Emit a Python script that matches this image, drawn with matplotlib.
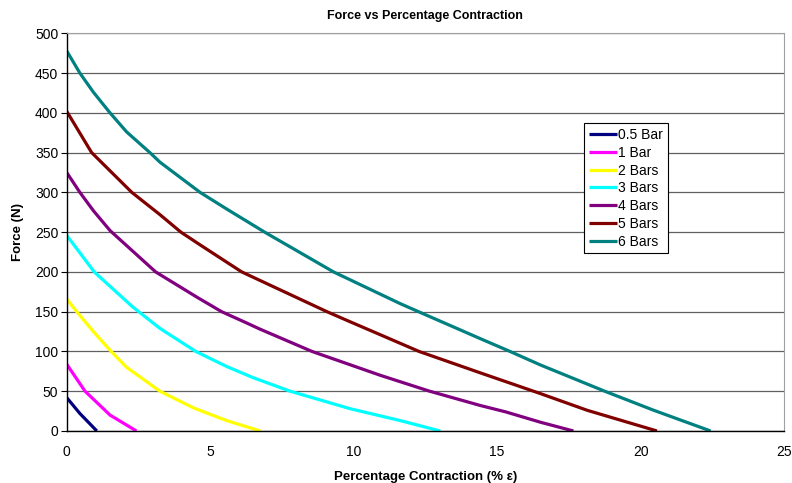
import matplotlib
matplotlib.use('Agg')
import matplotlib.pyplot as plt

plt.rcParams['font.family'] = ['Liberation Sans', 'DejaVu Sans']

# values, one (x, y) list per series
x_05 = [0, 0.46, 1.05]
y_05 = [42, 22, 0]
x_1 = [0, 0.64, 1.51, 2.43]
y_1 = [84, 50, 20, 0]
x_2 = [0, 0.35, 0.93, 1.55, 2.09, 3.25, 4.42, 5.58, 6.75]
y_2 = [166, 150, 125, 100, 80, 50, 29, 13, 0]
x_3 = [0, 0.96, 2.3, 3.25, 4.5, 5.58, 6.5, 7.79, 9.88, 10.93, 11.63, 13.02]
y_3 = [246, 200, 156, 129, 100, 81, 67, 50, 28, 19, 13, 0]
x_4 = [0, 0.46, 0.93, 1.51, 3.1, 4.55, 5.4, 6.2, 6.74, 8.55, 10.93, 12.65, 14.42, 15.3, 16.51, 17.66]
y_4 = [325, 300, 277, 252, 200, 168, 150, 137, 128, 100, 70, 50, 32, 24, 11, 0]
x_5 = [0, 0.87, 2.27, 3.25, 3.98, 4.65, 6.1, 9.07, 9.77, 10.93, 12.28, 14.42, 16.51, 18.14, 20.57]
y_5 = [402, 350, 300, 272, 250, 234, 200, 150, 139, 121, 100, 73, 47, 26, 0]
x_6 = [0, 0.46, 0.93, 1.51, 2.09, 2.9, 3.25, 4.65, 5.58, 6.9, 9.3, 11.63, 12.26, 14.42, 15.45, 16.51, 18.75, 20.46, 22.44]
y_6 = [478, 450, 426, 400, 376, 350, 338, 300, 279, 250, 200, 160, 150, 116, 100, 83, 50, 26, 0]

labels = ['0.5 Bar', '1 Bar', '2 Bars', '3 Bars', '4 Bars', '5 Bars', '6 Bars']
colors = ['#000080', '#FF00FF', '#FFFF00', '#00FFFF', '#800080', '#800000', '#008080']
xs = [x_05, x_1, x_2, x_3, x_4, x_5, x_6]
ys = [y_05, y_1, y_2, y_3, y_4, y_5, y_6]

fig = plt.figure(figsize=(7.92, 4.83), dpi=100)
ax = fig.add_axes([0.0842, 0.1077, 0.9058, 0.8233])

for x, y, c, l in zip(xs, ys, colors, labels):
    ax.plot(x, y, color=c, lw=2.3, label=l, solid_joinstyle='round', solid_capstyle='butt')

ax.set_xlim(0, 25)
ax.set_ylim(0, 500)
ax.set_xticks(range(0, 26, 5))
ax.set_yticks(range(0, 501, 50))
ax.grid(which='major', axis='y', color='#606060', lw=0.9)
ax.set_axisbelow(True)

for s in ['top', 'right']:
    ax.spines[s].set_color('#a0a0a0')
for s in ['left', 'bottom']:
    ax.spines[s].set_color('black')
    ax.spines[s].set_linewidth(1.0)

ax.tick_params(axis='y', labelsize=10, length=4, direction='out', pad=2)
ax.tick_params(axis='x', labelsize=10, length=0, pad=10)

ax.set_title('Force vs Percentage Contraction', fontsize=9, fontweight='bold', pad=10)
ax.set_xlabel('Percentage Contraction (% ε)', fontsize=9.5, fontweight='bold', labelpad=9)
ax.set_ylabel('Force (N)', fontsize=9.5, fontweight='bold', labelpad=8)

leg = ax.legend(loc='upper left', bbox_to_anchor=(0.721, 0.774), fontsize=10,
                handlelength=2.0, handletextpad=0.1, labelspacing=0.27,
                borderpad=0.35, borderaxespad=0, fancybox=False, framealpha=1,
                edgecolor='black')
leg.get_frame().set_linewidth(0.8)

fig.savefig('out.png', dpi=100)
